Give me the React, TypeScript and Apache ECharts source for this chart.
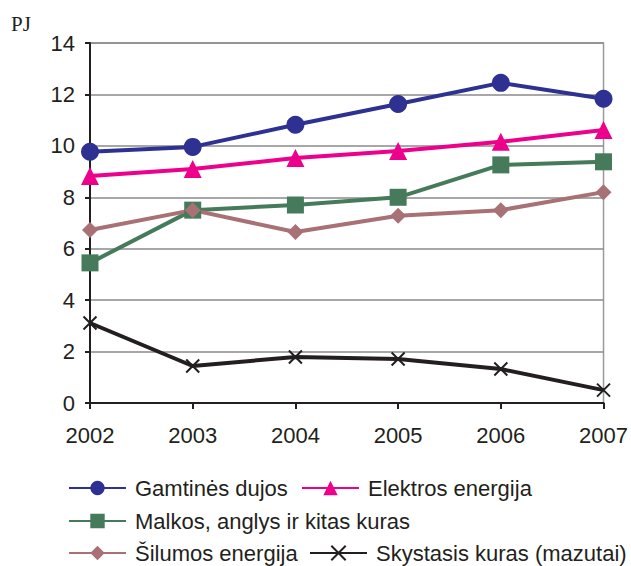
import React, { useEffect, useRef } from "react";
import * as echarts from "echarts";

const years = ["2002", "2003", "2004", "2005", "2006", "2007"];
const gamtines = [9.77, 9.96, 10.82, 11.63, 12.45, 11.83];
const elektros = [8.83, 9.1, 9.53, 9.8, 10.16, 10.62];
const malkos = [5.45, 7.5, 7.7, 8.0, 9.26, 9.38];
const silumos = [6.73, 7.5, 6.65, 7.28, 7.5, 8.2];
const skystasis = [3.11, 1.44, 1.79, 1.71, 1.32, 0.5];

const names = [
  "Gamtinės dujos",
  "Elektros energija",
  "Malkos, anglys ir kitas kuras",
  "Šilumos energija",
  "Skystasis kuras (mazutai)",
];

const FONT = "Liberation Sans, Arial, sans-serif";

export default function App() {
  const ref = useRef<HTMLDivElement>(null);
  useEffect(() => {
    const chart = echarts.init(ref.current!, null, { renderer: "svg" });
    const mkSeries = (name: string, data: number[], color: string, symbol: string, size: number) => ({
      name,
      type: "line",
      data,
      symbol,
      symbolSize: size,
      lineStyle: { color, width: 4 },
      itemStyle: { color },
    });
    const leg = (name: string, left: number, center: number) => ({
      left,
      top: center - 11,
      padding: 0,
      itemWidth: 57,
      itemHeight: 18,
      textStyle: { fontFamily: FONT, fontSize: 22, lineHeight: 22, color: "#231F20", padding: [0, 0, 0, 4] },
      selectedMode: false,
      data: [name],
    });
    chart.setOption({
      animation: false,
      grid: {
        left: 90,
        right: 25,
        top: 43,
        bottom: 163,
        show: true,
        borderColor: "#9a9a9a",
        borderWidth: 1.5,
        backgroundColor: "transparent",
      },
      graphic: [
        {
          type: "text",
          left: 11,
          top: 13,
          style: { text: "PJ", font: "21px 'Liberation Serif', 'Times New Roman', serif", fill: "#231F20" },
        },
      ],
      legend: [
        leg(names[0], 68, 488),
        leg(names[1], 301, 488),
        leg(names[2], 68, 521),
        leg(names[3], 68, 553),
        leg(names[4], 309, 553),
      ],
      xAxis: {
        type: "category",
        data: years,
        boundaryGap: false,
        axisLine: { lineStyle: { color: "#231F20", width: 2 } },
        axisTick: { show: true, length: 6, lineStyle: { color: "#231F20", width: 2 } },
        axisLabel: { fontFamily: FONT, fontSize: 22, color: "#231F20", margin: 21 },
      },
      yAxis: {
        type: "value",
        min: 0,
        max: 14,
        interval: 2,
        axisLine: { show: true, lineStyle: { color: "#231F20", width: 2 } },
        axisTick: { show: true, length: 5, lineStyle: { color: "#231F20", width: 2 } },
        axisLabel: { fontFamily: FONT, fontSize: 22, color: "#231F20", margin: 15 },
        splitLine: { lineStyle: { color: "#8a8a8a", width: 1.5 } },
      },
      series: [
        mkSeries(names[0], gamtines, "#2E3192", "circle", 18),
        mkSeries(names[1], elektros, "#EC008C", "triangle", 18),
        mkSeries(names[2], malkos, "#457A5A", "rect", 17),
        mkSeries(names[3], silumos, "#A87175", "diamond", 16),
        {
          ...mkSeries(names[4], skystasis, "#231F20", "path://M0,0L10,10M10,0L0,10", 13),
          itemStyle: { color: "#231F20", borderColor: "#231F20", borderWidth: 2 },
        },
      ],
    });
    return () => chart.dispose();
  }, []);
  return <div ref={ref} style={{ width: 631, height: 566, position: "absolute", left: 0, top: 0 }} />;
}
